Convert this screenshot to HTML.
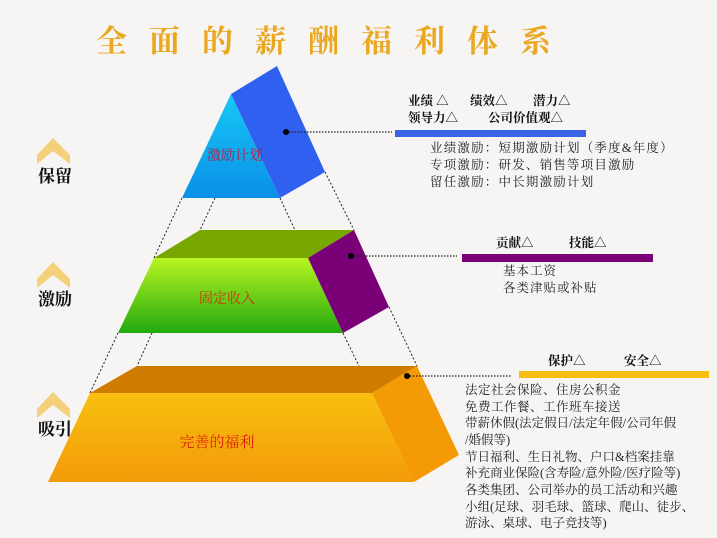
<!DOCTYPE html>
<html><head><meta charset="utf-8"><style>
body{margin:0;background:#f7f5f3;}
svg{display:block;}
text{font-family:"Liberation Serif","Noto Serif CJK SC",serif;}
</style></head><body>
<svg width="717" height="538" viewBox="0 0 717 538" xmlns="http://www.w3.org/2000/svg">
<defs>
<linearGradient id="gb" x1="0" y1="0" x2="0" y2="1"><stop offset="0" stop-color="#17c8f5"/><stop offset="1" stop-color="#0a8fe8"/></linearGradient>
<linearGradient id="gg" x1="0" y1="0" x2="0" y2="1"><stop offset="0" stop-color="#b8f520"/><stop offset="1" stop-color="#22aa10"/></linearGradient>
<linearGradient id="go" x1="0" y1="0" x2="0" y2="1"><stop offset="0" stop-color="#f8c010"/><stop offset="1" stop-color="#f29a08"/></linearGradient>
</defs>
<rect width="717" height="538" fill="#f7f5f3"/>
<text x="96" y="52" font-size="31" font-weight="bold" fill="#eaa820" letter-spacing="22">全面的薪酬福利体系</text>

<g fill="#f5d07a">
<polygon points="53,138 70,155 70,164 53,151 37,164 37,155"/>
<polygon points="53,262 70,279 70,288 53,275 37,288 37,279"/>
<polygon points="53,392 70,409 70,418 53,405 37,418 37,409"/>
</g>
<g font-size="17" font-weight="bold" fill="#111">
<text x="38" y="182">保留</text>
<text x="38" y="305">激励</text>
<text x="38" y="435">吸引</text>
</g>

<g stroke="#222" stroke-width="1" stroke-dasharray="2,2" fill="none">
<line x1="182" y1="198" x2="154" y2="258"/>
<line x1="215" y1="198" x2="200" y2="230"/>
<line x1="280" y1="198" x2="308" y2="258"/>
<line x1="325" y1="172" x2="354" y2="230"/>
<line x1="118" y1="333" x2="90" y2="393"/>
<line x1="152" y1="333" x2="137" y2="366"/>
<line x1="343" y1="333" x2="372" y2="393"/>
<line x1="389" y1="307" x2="417" y2="366"/>
</g>

<polygon points="137,366 417,366 372,393 90,393" fill="#d07c00"/>
<polygon points="90,393 372,393 414,482 48,482" fill="url(#go)"/>
<polygon points="417,366 459,455 414,482 372,393" fill="#f39a05"/>
<text x="217" y="447" font-size="15" fill="#e02010" text-anchor="middle">完善的福利</text>

<polygon points="200,230 354,230 308,258 154,258" fill="#78a800"/>
<polygon points="154,258 308,258 343,333 118,333" fill="url(#gg)"/>
<polygon points="354,230 389,307 343,333 308,258" fill="#7a0078"/>
<text x="227" y="303" font-size="14" fill="#d03010" text-anchor="middle">固定收入</text>

<polygon points="231,94 280,198 182,198" fill="url(#gb)"/>
<polygon points="231,94 277,66 325,172 280,198" fill="#3060f0"/>
<text x="235" y="160" font-size="14" fill="#b02040" text-anchor="middle">激励计划</text>

<g stroke="#222" stroke-width="1.2" stroke-dasharray="1.5,1.5">
<line x1="286" y1="132" x2="392" y2="132"/>
<line x1="351" y1="256" x2="457" y2="256"/>
<line x1="407" y1="376" x2="512" y2="376"/>
</g>
<circle cx="286" cy="132" r="3" fill="#000"/>
<circle cx="351" cy="256" r="3" fill="#000"/>
<circle cx="407" cy="376" r="3" fill="#000"/>
<rect x="395" y="130" width="191" height="7" fill="#3a64e8"/>
<rect x="462" y="254" width="191" height="8" fill="#7a0078"/>
<rect x="519" y="371" width="190" height="7" fill="#f5be10"/>

<g font-size="12.5" font-weight="bold" fill="#111">
<text x="408" y="105">业绩 △</text><text x="470" y="105">绩效△</text><text x="533" y="105">潜力△</text>
<text x="408" y="122">领导力△</text><text x="488" y="122">公司价值观△</text>
<text x="496" y="247">贡献△</text><text x="569" y="247">技能△</text>
<text x="548" y="365">保护△</text><text x="624" y="365">安全△</text>
</g>
<g font-size="12.5" fill="#222">
<text x="430" y="152" letter-spacing="1.2">业绩激励：短期激励计划（季度&amp;年度）</text>
<text x="430" y="169" letter-spacing="1.2">专项激励：研发、销售等项目激励</text>
<text x="430" y="186" letter-spacing="1.2">留任激励：中长期激励计划</text>
<text x="503" y="275" letter-spacing="1">基本工资</text>
<text x="503" y="292" letter-spacing="1">各类津贴或补贴</text>
<text x="465" y="394" letter-spacing="0.5">法定社会保险、住房公积金</text>
<text x="465" y="411" letter-spacing="0.5">免费工作餐、工作班车接送</text>
<text x="465" y="427">带薪休假(法定假日/法定年假/公司年假</text>
<text x="465" y="444">/婚假等)</text>
<text x="465" y="461">节日福利、生日礼物、户口&amp;档案挂靠</text>
<text x="465" y="477">补充商业保险(含寿险/意外险/医疗险等)</text>
<text x="465" y="494">各类集团、公司举办的员工活动和兴趣</text>
<text x="465" y="511">小组(足球、羽毛球、篮球、爬山、徒步、</text>
<text x="465" y="527">游泳、桌球、电子竞技等)</text>
</g>
</svg>
</body></html>
